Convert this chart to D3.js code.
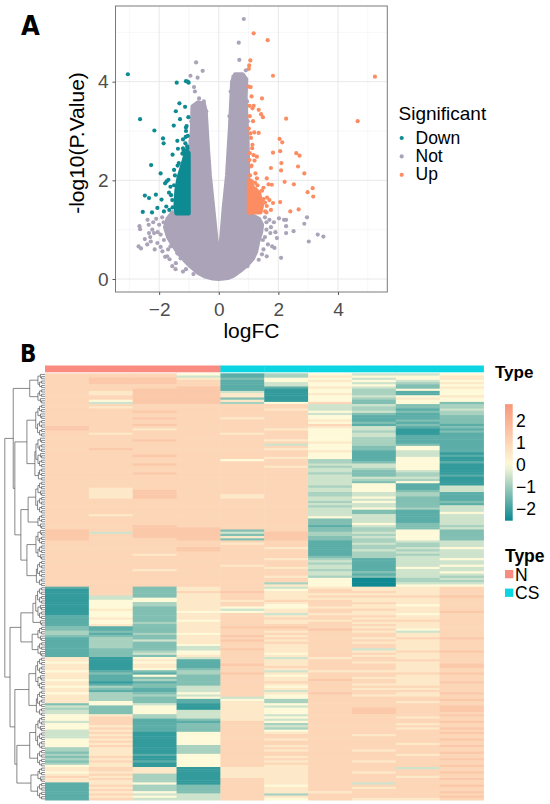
<!DOCTYPE html>
<html><head><meta charset="utf-8">
<script src="https://cdn.jsdelivr.net/npm/d3@7"></script>
<style>body{margin:0;background:#fff}svg{display:block}</style>
</head><body><svg id="c" width="550" height="804"></svg>
<script>
// ---------------- Panel A: volcano data (logFC, -log10 P) ----------------
const notMass = [[0.00,0.00],[0.30,0.02],[0.50,0.07],[0.75,0.18],[0.95,0.28],[1.15,0.42],[1.25,0.55],[1.32,0.75],[1.42,0.95],[1.45,1.10],[1.35,1.22],[1.15,1.28],[1.00,1.33],
[0.98,1.8],[0.98,2.4],[0.96,2.9],[0.92,3.3],[0.90,3.7],[0.92,4.05],[0.80,4.15],[0.55,4.15],[0.45,4.0],[0.42,3.6],[0.38,3.1],[0.33,2.6],[0.28,2.1],[0.17,1.45],[0.08,0.8],[0.00,0.32],
[-0.08,0.8],[-0.19,1.45],[-0.30,2.1],[-0.36,2.6],[-0.40,3.0],[-0.44,3.4],[-0.50,3.55],[-0.70,3.58],[-0.88,3.50],[-0.90,3.0],[-0.97,2.6],[-1.00,2.0],[-1.00,1.36],
[-1.25,1.33],[-1.55,1.35],[-1.72,1.22],[-1.80,1.05],[-1.70,0.85],[-1.55,0.70],[-1.35,0.52],[-1.15,0.38],[-0.95,0.26],[-0.70,0.13],[-0.45,0.05],[-0.20,0.01]];
const downMass = [[-1.01,1.33],[-1.01,2.55],[-1.08,2.6],[-1.15,2.45],[-1.25,2.25],[-1.35,2.05],[-1.42,1.8],[-1.45,1.5],[-1.42,1.33]];
const upMass = [[1.01,1.35],[1.4,1.35],[1.45,1.5],[1.35,1.75],[1.15,1.85],[1.05,2.0],[1.01,2.0]];
const notPoints = [[0.84,5.27],[0.67,4.79],[0.69,4.44],[0.91,4.23],[0.49,4.10],[0.83,4.04],[-0.76,4.39],[-0.54,4.22],[-0.95,4.12],[-0.71,4.08],[-0.83,3.89],[-0.80,3.80],[-0.66,3.66],
[-2.66,1.07],[-2.64,1.01],[-2.48,0.81],[-2.69,0.66],[-2.61,0.62],[-2.39,1.20],[-2.23,1.00],[-2.17,0.93],[-2.06,0.73],[-1.84,0.79],[-1.73,0.46],[-1.56,0.26],[-1.44,0.32],[-1.28,0.42],[-0.61,0.11],[-1.39,0.52],[-1.62,0.66],[-1.89,0.56],[-2.28,0.76],[-2.34,0.93],[-2.0,1.1],[-1.9,1.25],[-2.1,1.22],
[-2.35,1.1],[-2.2,1.15],[-2.05,0.95],[-1.95,0.9],[-2.3,0.85],[-2.15,0.6],[-1.95,0.65],[-1.8,0.45],[-2.4,0.7],[-1.85,1.15],[-1.7,0.6],[-1.65,0.4],[-1.45,0.2],[-1.2,0.15],[-1.1,0.2],[-0.85,0.1],
[2.02,1.23],[2.19,1.20],[2.26,1.20],[2.96,1.25],[2.87,1.12],[2.51,0.97],[2.26,0.93],[1.95,0.83],[1.79,0.66],[1.61,0.46],[1.34,0.39],[0.96,0.26],[3.02,0.76],[3.32,0.90],[3.51,0.86],[2.09,0.43],[1.87,0.63],[1.48,0.79],[1.73,0.93],[2.26,1.07],[1.6,1.15],[1.75,1.05],[1.55,1.25],
[1.6,1.0],[1.55,0.85],[1.65,0.7],[1.5,0.6],[1.7,1.2],[1.85,1.15],[1.9,0.95],[1.45,0.5],
[0.95,3.6],[0.97,3.2],[0.40,3.8],[0.36,3.3],[-0.92,3.2],[-0.95,2.8],[-0.42,3.4],[-0.5,3.6]];
const downPoints = [[-3.05,4.15],[-2.64,3.24],[-2.16,3.01],[-1.87,2.85],[-1.85,2.75],[-2.27,2.31],[-1.95,2.14],[-1.80,1.94],[-1.69,2.01],[-2.48,1.69],[-2.34,1.64],[-2.11,1.71],[-1.92,1.61],[-2.55,1.36],[-2.24,1.35],[-2.06,1.44],
[-1.41,3.98],[-1.10,4.01],[-1.04,4.0],[-1.01,3.98],[-1.32,3.56],[-1.13,3.49],[-1.44,3.40],[-1.30,3.24],[-1.02,3.28],[-1.51,3.11],[-1.10,3.07],[-1.10,3.00],[-1.39,2.80],[-1.20,2.83],[-1.11,2.88],[-1.06,2.69],[-1.37,2.64],[-1.22,2.54],[-1.55,2.52],[-1.34,2.35],[-1.50,2.21],[-1.75,1.98],[-1.62,1.87],[-1.67,1.75],[-1.56,1.60],[-1.76,1.47],[-1.84,1.37],[-1.66,1.40],
[-1.05,2.65],[-1.12,2.75],[-1.04,2.9],[-1.18,2.6],[-1.08,3.1],[-1.5,1.9],[-1.55,1.45],[-1.6,1.7],[-1.47,2.1],[-1.38,2.3],[-1.2,2.65]];
const upPoints = [[1.17,4.98],[1.64,4.84],[1.06,4.43],[1.02,4.33],[1.01,4.26],[1.82,4.12],[5.24,4.10],[4.66,3.20],[1.07,3.89],[1.45,3.66],[1.03,3.51],[1.17,3.51],[1.13,3.46],[1.34,3.43],[1.42,3.34],[1.48,3.28],[2.26,3.25],[1.01,3.05],[1.19,2.97],[1.34,2.96],[1.08,2.86],[2.04,2.84],[2.13,2.77],[1.13,2.72],
[2.60,2.55],[2.71,2.50],[1.82,2.56],[2.06,2.59],[1.17,2.51],[1.28,2.48],[1.03,2.41],[2.66,2.28],[1.75,2.25],[2.10,2.35],[2.09,2.20],[1.08,2.28],[1.23,2.14],[2.87,2.14],[1.28,2.04],[1.61,2.04],[2.21,1.97],[2.52,1.92],[1.67,1.92],[1.78,1.91],[3.15,1.84],[2.98,1.76],[3.17,1.67],[2.06,1.56],[2.40,1.37],[2.68,1.41],[1.82,1.54],
[1.11,1.76],[1.28,1.69],[1.50,1.62],[1.39,1.55],[1.61,1.48],[1.17,1.44],[1.34,1.37],[1.56,1.37],[1.75,1.40],[1.06,1.89],[1.23,1.82],[1.45,1.79],[1.11,1.98],[1.17,1.62],[1.06,1.34],
[1.05,2.1],[1.1,2.3],[1.04,2.55],[1.12,2.65],[1.06,2.95],[1.15,3.2],[1.22,1.95],[1.3,1.9],[1.5,1.85],[1.55,1.55],[1.62,1.65],[1.42,1.45],[1.25,1.38],[1.6,1.35],[1.7,1.6],[1.2,2.4],[1.04,3.3],[1.1,3.7],[1.0,3.9]];
const xMajor = [-2,0,2,4], xMinor = [-3,-1,1,3,5];
const yMajor = [0,2,4], yMinor = [1,3,5];
const groups = ["Down","Not","Up"];

// ---------------- Panel B: heatmap data ----------------
const sampleTypes = ["N","N","N","N","CS","CS","CS","CS","CS","CS"];
const typeLevels = ["N","CS"];
const colorbarTicks = [2,1,0,-1,-2];
const levelCode = {"0":-2.5,"1":-2.1,"2":-1.7,"3":-1.3,"4":-0.9,"5":-0.5,"6":0,"7":0.5,"8":1.0,"9":1.4,"a":1.8,"b":2.2};
const heatRows = [
"8886246556","8885247667","8997366567","8998267656","8998256547","8888256636","8889227537","8899216466","8799516426","8799717426","8899716567","8899316476","8699716366","8599468363",
"8888885534","8788885434","8888875425","8898886534","8888885324","8888886223","8898786223","8888887233","8888886323","8898888232","9888887523","9878876512","8888886413","8788786512","8888886522","8888886422","8898876422","8888887422","8888856432","8888886362","8988876362","8888887252","8888886251","8898886252","8888876261","8888684261","8888884362","8898885561","8888874561","8888885461","8888885351","8898884341","8888885342","8888885551","8888885441",
"8888885361","8888885621","8888884625","8788885625","8798885635","8798884542","8798784542","8798785632","8888885532","8888884633","8888885532","8888884535","8888885645","8888885325","8888885326","8788885525","8888886525","8888883525","8888883525","8888883635","8898882534","8899883435",
"9899383463","9599594563","9899394463","9899793563","9889393463","8888882455","8888782545","8888882445","8889872456","8889882545","8888882455","8878882445","8888883455","8888874256","8888885255","8888884255","8888785256","8888875265","8878884255","8888885356","8888885255","8888874354","8888886045","8888886044","8888846055","8888876066",
"2837857778","1837868778","1838978878","1837877778","1537878889","1567877778","1667788778","1647878878","1647868768","1637667778","1737578878","1636678779","1637857768","2637878878","2737888778","2636877888","2647878778","2737888878",
"3237998778","3237889868","4337878758","4246888878","3337978878","2437888789","2457978878","2437888778","2436878878","2435878878","2335978578","2346878789","2356868878","2337878778",
"7165857878","7172878888","6162878778","7172978879","7172888879","7163878878","6234857778","7324978889","7263868878","7233878778","6243879878","7123888879","7233878778","6435868888","7325878778","7225858888","6436879879","7445868778","7436568888","7432648889","7632748878","3651768888","5361758889","4361768989","5365768989","5365768988","6745758889",
"6845768878","6823758888","5822868889","6823848878","6723858888","6823848879","5723868888","5816878889","5716888788","5816888888","6716878889","6816888888","6716888878","6814878889","4714888888","4714878788","3714888889","4726888878","3816878888","4716888889","3826878788","4716888888","6716878889",
"7871778858","7871778888","6771778789","7841778888","8741778878","7841878889","7741878888","2761878588","2843868889","2743878788","2843878888","2763877889","2855848888","2765878889","2855868778"];
// row dendrogram: topology of segments (a,b,c = 2-,3-,4-leaf blocks) and merge heights
const dendroBlocks = {a:"(x,x)", b:"(x,(x,x))", c:"((x,x),(x,x))"};
const segmentTrees = {S1:"((b,c),(c,b))", S2:"(((c,b),(c,c)),(((b,c),(b,c)),(c,a)))", S3:"(((c,b),(c,c)),(c,b))", S4:"(((b,c),(c,b)),((c,c),c))",
  B1:"(((c,c),(b,c)),b)", B2:"((c,b),(c,b))", B3:"(((c,c),(b,c)),((c,c),c))", B4:"(((c,b),(c,c)),(c,c))", B5:"((c,b),(c,c))"};
const segmentHeights = {S1:0.38,S2:0.45,S3:0.42,S4:0.45,B1:0.30,B2:0.32,B3:0.40,B4:0.38,B5:0.35};
const upperTree = {h:1.0, c:[{h:0.79, c:["S1",{h:0.75,c:["S2",{h:0.6,c:["S3","S4"]}]}]},{h:0.87,c:[{h:0.6,c:["B1","B2"]},{h:0.75,c:["B3",{h:0.7,c:["B4","B5"]}]}]}]};

// ---------------- drawing ----------------
const svg = d3.select("#c");
const FONT = "'Liberation Sans', Arial, sans-serif";
const colors = {Down:"#0E8A92", Not:"#ABA3B8", Up:"#FC8D62"};

// ---- Volcano ----
const allPts = notMass.concat(downMass, upMass, notPoints, downPoints, upPoints);
const xe = d3.extent(allPts, d=>d[0]), ye = d3.extent(allPts, d=>d[1]);
const xpad = (xe[1]-xe[0])*0.05, ypad = (ye[1]-ye[0])*0.05;
const L = 115.5, R = 387.3, T = 6, B = 292;
const xs = d3.scaleLinear().domain([xe[0]-xpad, xe[1]+xpad]).range([L, R]);
const ys = d3.scaleLinear().domain([ye[0]-ypad, ye[1]+ypad]).range([B, T]);
const gA = svg.append("g");
gA.append("rect").attr("x",L).attr("y",T).attr("width",R-L).attr("height",B-T).attr("fill","#fff");
gA.selectAll(".vmin").data(xMinor).join("line").attr("x1",d=>xs(d)).attr("x2",d=>xs(d)).attr("y1",T).attr("y2",B).attr("stroke","#F2F2F2").attr("stroke-width",0.6);
gA.selectAll(".hmin").data(yMinor).join("line").attr("y1",d=>ys(d)).attr("y2",d=>ys(d)).attr("x1",L).attr("x2",R).attr("stroke","#F2F2F2").attr("stroke-width",0.6);
gA.selectAll(".vmaj").data(xMajor).join("line").attr("x1",d=>xs(d)).attr("x2",d=>xs(d)).attr("y1",T).attr("y2",B).attr("stroke","#E8E8E8").attr("stroke-width",1);
gA.selectAll(".hmaj").data(yMajor).join("line").attr("y1",d=>ys(d)).attr("y2",d=>ys(d)).attr("x1",L).attr("x2",R).attr("stroke","#E8E8E8").attr("stroke-width",1);
const area = d3.line().x(d=>xs(d[0])).y(d=>ys(d[1])).curve(d3.curveLinearClosed);
function mass(data, col){ gA.append("path").attr("d", area(data)).attr("fill",col).attr("stroke",col).attr("stroke-width",4.2).attr("stroke-linejoin","round"); }
function pts(data, col){ gA.append("g").selectAll("circle").data(data).join("circle").attr("cx",d=>xs(d[0])).attr("cy",d=>ys(d[1])).attr("r",2.1).attr("fill",col); }
mass(notMass, colors.Not); pts(notPoints, colors.Not);
mass(downMass, colors.Down); pts(downPoints, colors.Down);
mass(upMass, colors.Up); pts(upPoints, colors.Up);
gA.append("rect").attr("x",L).attr("y",T).attr("width",R-L).attr("height",B-T).attr("fill","none").attr("stroke","#7A7A7A").attr("stroke-width",1);
// axes
const fmt = d=>d<0?"\u2212"+Math.abs(d):String(d);
const xAxis = d3.axisBottom(xs).tickValues(xMajor).tickSize(3).tickPadding(3).tickFormat(fmt);
const yAxis = d3.axisLeft(ys).tickValues(yMajor).tickSize(3).tickPadding(4).tickFormat(fmt);
const ax = gA.append("g").attr("transform",`translate(0,${B})`).call(xAxis);
const ay = gA.append("g").attr("transform",`translate(${L},0)`).call(yAxis);
[ax, ay].forEach(a=>{ a.select(".domain").remove(); a.selectAll("line").attr("stroke","#555"); a.selectAll("text").attr("fill","#4D4D4D").attr("font-size",19).attr("font-family",FONT); });
ax.selectAll("text").attr("dy","0.95em");
gA.append("text").attr("x",(L+R)/2).attr("y",338).attr("text-anchor","middle").attr("font-family",FONT).attr("font-size",21).text("logFC");
gA.append("text").attr("transform",`translate(84,143) rotate(-90)`).attr("text-anchor","middle").attr("font-family",FONT).attr("font-size",21).text("-log10(P.Value)");
// legend
gA.append("text").attr("x",398.5).attr("y",120).attr("font-family",FONT).attr("font-size",19).text("Significant");
const lg = gA.append("g").selectAll("g").data(groups).join("g").attr("transform",(d,i)=>`translate(0,${i*18.4})`);
lg.append("circle").attr("cx",401.7).attr("cy",138).attr("r",2.1).attr("fill",d=>colors[d]);
lg.append("text").attr("x",415.5).attr("y",143.5).attr("font-family",FONT).attr("font-size",17.5).text(d=>d);
// panel labels
svg.append("text").attr("x",21).attr("y",35).attr("font-family","'DejaVu Sans Condensed', 'DejaVu Sans', sans-serif").attr("font-weight","bold").attr("font-size",27).text("A");
svg.append("text").attr("x",20).attr("y",361.5).attr("font-family","'DejaVu Sans Condensed', 'DejaVu Sans', sans-serif").attr("font-weight","bold").attr("font-size",24).text("B");

// ---- Heatmap ----
const HL = 45, HR = 483.5, HT = 373.3, HB = 800;
const nCol = sampleTypes.length, nRow = heatRows.length;
const xb = d3.scaleBand().domain(d3.range(nCol)).range([HL, HR]);
const yb = d3.scaleBand().domain(d3.range(nRow)).range([HT, HB]);
const cbRange = [-2.53, 2.75];
const heatColor = d3.scaleLinear().domain([cbRange[0], 0, cbRange[1]]).range(["#0B8890","#FEFAD9","#F9977A"]).interpolate(d3.interpolateRgb);
const typeColor = d3.scaleOrdinal().domain(typeLevels).range(["#FA8B80","#0CD5E2"]);
const cells = [];
heatRows.forEach((row,r)=>{ for(let c=0;c<nCol;c++) cells.push({r, c, v: levelCode[row[c]]}); });
const gB = svg.append("g");
gB.selectAll("rect.cell").data(cells).join("rect").attr("class","cell")
  .attr("x",d=>xb(d.c)).attr("y",d=>yb(d.r)).attr("width",xb.bandwidth()+0.4).attr("height",yb.bandwidth()+0.5)
  .attr("fill",d=>heatColor(d.v));
// annotation bar
gB.selectAll("rect.ann").data(sampleTypes).join("rect").attr("class","ann")
  .attr("x",(d,i)=>xb(i)).attr("y",365.5).attr("width",xb.bandwidth()+0.4).attr("height",6.8).attr("fill",d=>typeColor(d));
gB.append("text").attr("x",495).attr("y",377.5).attr("font-family",FONT).attr("font-weight","bold").attr("font-size",17).text("Type");
// colorbar
const cbY = d3.scaleLinear().domain([-2,2]).range([509,420.7]);
const grad = svg.append("defs").append("linearGradient").attr("id","cbg").attr("x1",0).attr("y1",1).attr("x2",0).attr("y2",0);
d3.range(0,1.0001,0.05).forEach(t=>{ grad.append("stop").attr("offset",t).attr("stop-color",heatColor(cbRange[0]+t*(cbRange[1]-cbRange[0]))); });
gB.append("rect").attr("x",505).attr("y",cbY(cbRange[1])).attr("width",7.7).attr("height",cbY(cbRange[0])-cbY(cbRange[1])).attr("fill","url(#cbg)");
gB.selectAll("text.cbt").data(colorbarTicks).join("text").attr("class","cbt").attr("x",516).attr("y",d=>cbY(d)).attr("dy","0.36em")
  .attr("font-family",FONT).attr("font-size",17.5).text(fmt);
// type legend
gB.append("text").attr("x",505).attr("y",561.5).attr("font-family",FONT).attr("font-weight","bold").attr("font-size",17.5).text("Type");
const tl = gB.selectAll("g.tl").data(typeLevels).join("g").attr("class","tl").attr("transform",(d,i)=>`translate(0,${i*18.6})`);
tl.append("rect").attr("x",505).attr("y",570).attr("width",8.3).attr("height",8.3).attr("fill",d=>typeColor(d));
tl.append("text").attr("x",515).attr("y",580.5).attr("font-family",FONT).attr("font-size",17.5).text(d=>d);

// ---- dendrogram ----
function expand(p){ return p.replace(/c/g,dendroBlocks.c).replace(/b/g,dendroBlocks.b).replace(/a/g,dendroBlocks.a); }
function parse(str){ let i=0; function node(){ if(str[i]==='('){ i++; const kids=[node()]; while(str[i]===','){ i++; kids.push(node()); } i++; return {children:kids}; } i++; return {}; } return node(); }
function build(spec){ if(typeof spec==="string"){ const t = parse(expand(segmentTrees[spec])); t.h = segmentHeights[spec]; return t; } return {h:spec.h, children:spec.c.map(build)}; }
const root = d3.hierarchy(build(upperTree), d=>d.children);
const leaves = root.leaves();
const step = (HB-HT)/leaves.length;
leaves.forEach((l,i)=>{ l.py = HT + step*(i+0.5); l.hh = 0; });
root.eachAfter(n=>{ if(n.children){ n.hh = (n.data.h!==undefined) ? n.data.h : 0.035+0.05*Math.log2(n.leaves().length); n.py = (n.children[0].py + n.children[n.children.length-1].py)/2; } });
const dx = d3.scaleLinear().domain([0,1]).range([HL, 4.8]);
let dpath = "";
root.each(n=>{ if(!n.children) return; const x0 = dx(n.hh); const c0 = n.children[0], c1 = n.children[n.children.length-1];
  dpath += `M${dx(c0.hh)},${c0.py}H${x0}V${c1.py}H${dx(c1.hh)}`;
  n.children.slice(1,-1).forEach(c=>{ dpath += `M${x0},${c.py}H${dx(c.hh)}`; }); });
gB.append("path").attr("d",dpath).attr("fill","none").attr("stroke","#555").attr("stroke-width",0.7);
</script></body></html>
